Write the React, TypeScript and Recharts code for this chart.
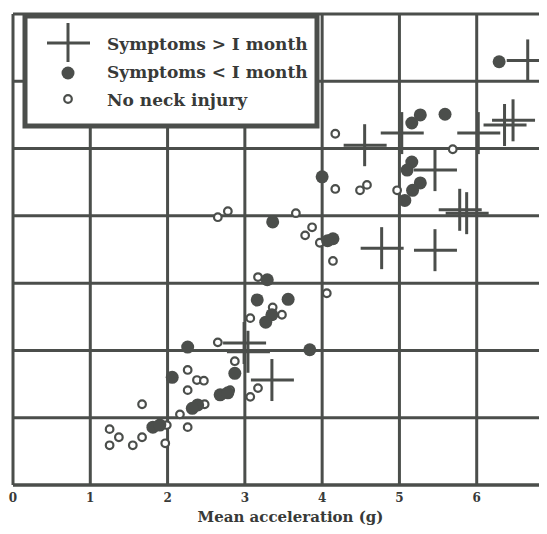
import React from 'react';
import { ScatterChart, Scatter, XAxis, YAxis, CartesianGrid, Label } from 'recharts';

// x = mean acceleration (g), y = second (unlabelled) axis, grid units 0..7
const longX = [6.66, 4.55, 5.03, 5.46, 6.02, 6.36, 6.47, 5.78, 5.87, 4.77, 5.46, 2.99, 3.04, 3.35];
const longY = [6.31, 5.05, 5.23, 4.68, 5.23, 5.35, 5.42, 4.09, 4.04, 3.52, 3.49, 2.11, 1.98, 1.56];

const shortX = [6.29, 5.27, 5.16, 5.59, 4.0, 5.16, 5.1, 5.27, 5.17, 5.07, 3.36, 4.14, 4.07, 3.29, 3.16, 3.56, 3.35, 3.27, 3.84, 2.26, 2.87, 2.06, 2.68, 2.78, 2.39, 2.32, 1.81, 1.9];
const shortY = [6.29, 5.5, 5.38, 5.51, 4.58, 4.8, 4.68, 4.49, 4.38, 4.23, 3.91, 3.66, 3.63, 3.05, 2.75, 2.76, 2.53, 2.42, 2.01, 2.05, 1.66, 1.6, 1.34, 1.37, 1.19, 1.14, 0.86, 0.89];

const noneX = [4.17, 5.69, 4.17, 4.49, 4.58, 4.97, 2.65, 2.78, 3.66, 3.78, 3.87, 3.97, 4.14, 3.17, 4.06, 3.36, 3.48, 3.07, 2.65, 2.87, 2.26, 2.38, 2.47, 2.26, 3.07, 3.17, 1.67, 2.48, 2.16, 1.99, 2.26, 1.97, 1.25, 1.37, 1.25, 1.55, 1.67, 2.81];
const noneY = [5.22, 4.99, 4.4, 4.38, 4.46, 4.38, 3.98, 4.07, 4.04, 3.71, 3.83, 3.6, 3.33, 3.09, 2.85, 2.64, 2.53, 2.48, 2.12, 1.84, 1.71, 1.56, 1.55, 1.41, 1.31, 1.44, 1.2, 1.2, 1.05, 0.89, 0.86, 0.62, 0.83, 0.71, 0.59, 0.59, 0.71, 1.41];

const xTicks = [0, 1, 2, 3, 4, 5, 6, 7];
const yTicks = [0, 1, 2, 3, 4, 5, 6, 7];

const legendLabels = ['Symptoms > I month', 'Symptoms < I month', 'No neck injury'];

const ink = '#4b4e4b';
const textInk = '#383a38';
const font = '"DejaVu Serif", serif';

const toPoints = (xs: number[], ys: number[]) => xs.map((x, i) => ({ x, y: ys[i] }));

const Cross = (props: any) => {
  const { cx, cy } = props;
  return (
    <g>
      <line x1={cx - 21} y1={cy} x2={cx + 22} y2={cy} stroke={ink} strokeWidth={3} />
      <line x1={cx} y1={cy - 21} x2={cx} y2={cy + 21} stroke={ink} strokeWidth={3} />
    </g>
  );
};

const Dot = (props: any) => <circle cx={props.cx} cy={props.cy} r={6.5} fill={ink} />;

const Ring = (props: any) => (
  <circle cx={props.cx} cy={props.cy} r={3.8} fill="#fff" stroke={ink} strokeWidth={2.2} />
);

// the 7 label sits past the cropped right edge, so it is left out
const XTick = (props: any) =>
  props.payload.value === 7 ? null : (
    <text x={props.x} y={494} textAnchor="middle" fontFamily={font} fontWeight="bold" fontSize={12} fill={textInk}>
      {props.payload.value}
    </text>
  );

export default function App() {
  return (
    <div style={{ position: 'relative', width: 539, height: 526, overflow: 'hidden', marginBottom: -8, background: '#fff' }}>
      <ScatterChart width={560} height={526} margin={{ top: 6, right: 14, bottom: 0, left: 5 }}>
        <CartesianGrid stroke={ink} strokeWidth={3} />
        <XAxis
          type="number"
          dataKey="x"
          domain={[0, 7]}
          ticks={xTicks}
          height={49}
          tickLine={false}
          axisLine={{ stroke: ink, strokeWidth: 3 }}
          tick={<XTick />}
        >
          <Label
            value="Mean acceleration (g)"
            position="insideBottom"
            offset={12}
            dx={7}
            style={{ fontFamily: font, fontWeight: 'bold', fontSize: 15, fill: textInk }}
          />
        </XAxis>
        <YAxis type="number" dataKey="y" domain={[0, 7]} ticks={yTicks} hide />
        <Scatter data={toPoints(noneX, noneY)} shape={<Ring />} isAnimationActive={false} />
        <Scatter data={toPoints(shortX, shortY)} shape={<Dot />} isAnimationActive={false} />
        <Scatter data={toPoints(longX, longY)} shape={<Cross />} isAnimationActive={false} />
      </ScatterChart>

      {/* legend box, drawn over the plot like the original */}
      <svg width={539} height={526} style={{ position: 'absolute', left: 0, top: 0, pointerEvents: 'none' }}>
        <rect x={17} y={8} width={292} height={110} fill="#fff" stroke={ink} strokeWidth={5} />
        <line x1={39} y1={35} x2={82} y2={35} stroke={ink} strokeWidth={3} />
        <line x1={60} y1={15} x2={60} y2={54} stroke={ink} strokeWidth={3} />
        <circle cx={60} cy={65} r={6.5} fill={ink} />
        <circle cx={60} cy={91} r={3.8} fill="#fff" stroke={ink} strokeWidth={2.2} />
        {legendLabels.map((t, i) => (
          <text key={t} x={99} y={42 + i * 28} fontFamily={font} fontWeight="bold" fontSize={17} fill={textInk}>
            {t}
          </text>
        ))}
      </svg>
    </div>
  );
}
